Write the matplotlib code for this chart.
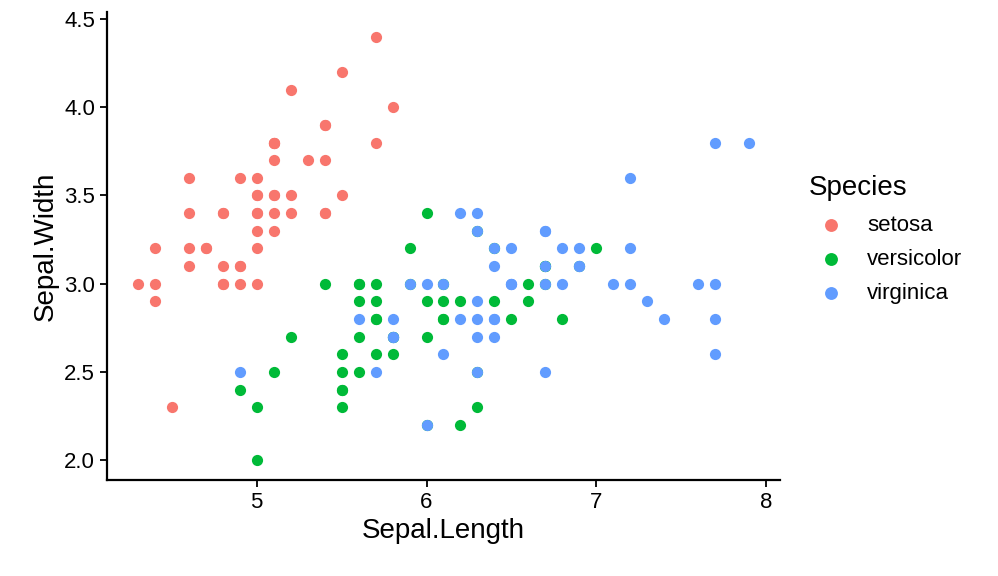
import matplotlib.pyplot as plt

# iris: sepal length / width per species
setosa_len = [5.1, 4.9, 4.7, 4.6, 5.0, 5.4, 4.6, 5.0, 4.4, 4.9, 5.4, 4.8, 4.8, 4.3, 5.8, 5.7, 5.4, 5.1, 5.7, 5.1,
              5.4, 5.1, 4.6, 5.1, 4.8, 5.0, 5.0, 5.2, 5.2, 4.7, 4.8, 5.4, 5.2, 5.5, 4.9, 5.0, 5.5, 4.9, 4.4, 5.1,
              5.0, 4.5, 4.4, 5.0, 5.1, 4.8, 5.1, 4.6, 5.3, 5.0]
setosa_wid = [3.5, 3.0, 3.2, 3.1, 3.6, 3.9, 3.4, 3.4, 2.9, 3.1, 3.7, 3.4, 3.0, 3.0, 4.0, 4.4, 3.9, 3.5, 3.8, 3.8,
              3.4, 3.7, 3.6, 3.3, 3.4, 3.0, 3.4, 3.5, 3.4, 3.2, 3.1, 3.4, 4.1, 4.2, 3.1, 3.2, 3.5, 3.6, 3.0, 3.4,
              3.5, 2.3, 3.2, 3.5, 3.8, 3.0, 3.8, 3.2, 3.7, 3.3]
versi_len = [7.0, 6.4, 6.9, 5.5, 6.5, 5.7, 6.3, 4.9, 6.6, 5.2, 5.0, 5.9, 6.0, 6.1, 5.6, 6.7, 5.6, 5.8, 6.2, 5.6,
             5.9, 6.1, 6.3, 6.1, 6.4, 6.6, 6.8, 6.7, 6.0, 5.7, 5.5, 5.5, 5.8, 6.0, 5.4, 6.0, 6.7, 6.3, 5.6, 5.5,
             5.5, 6.1, 5.8, 5.0, 5.6, 5.7, 5.7, 6.2, 5.1, 5.7]
versi_wid = [3.2, 3.2, 3.1, 2.3, 2.8, 2.8, 3.3, 2.4, 2.9, 2.7, 2.0, 3.0, 2.2, 2.9, 2.9, 3.1, 3.0, 2.7, 2.2, 2.5,
             3.2, 2.8, 2.5, 2.8, 2.9, 3.0, 2.8, 3.0, 2.9, 2.6, 2.4, 2.4, 2.7, 2.7, 3.0, 3.4, 3.1, 2.3, 3.0, 2.5,
             2.6, 3.0, 2.6, 2.3, 2.7, 3.0, 2.9, 2.9, 2.5, 2.8]
virg_len = [6.3, 5.8, 7.1, 6.3, 6.5, 7.6, 4.9, 7.3, 6.7, 7.2, 6.5, 6.4, 6.8, 5.7, 5.8, 6.4, 6.5, 7.7, 7.7, 6.0,
            6.9, 5.6, 7.7, 6.3, 6.7, 7.2, 6.2, 6.1, 6.4, 7.2, 7.4, 7.9, 6.4, 6.3, 6.1, 7.7, 6.3, 6.4, 6.0, 6.9,
            6.7, 6.9, 5.8, 6.8, 6.7, 6.7, 6.3, 6.5, 6.2, 5.9]
virg_wid = [3.3, 2.7, 3.0, 2.9, 3.0, 3.0, 2.5, 2.9, 2.5, 3.6, 3.2, 2.7, 3.0, 2.5, 2.8, 3.2, 3.0, 3.8, 2.6, 2.2,
            3.2, 2.8, 2.8, 2.7, 3.3, 3.2, 2.8, 3.0, 2.8, 3.0, 2.8, 3.8, 2.8, 2.8, 2.6, 3.0, 3.4, 3.1, 3.0, 3.1,
            3.1, 3.1, 2.7, 3.2, 3.3, 3.0, 2.5, 3.0, 3.4, 3.0]

species = ["setosa", "versicolor", "virginica"]
colors = ["#F8766D", "#00BA38", "#619CFF"]
series = [(setosa_len, setosa_wid), (versi_len, versi_wid), (virg_len, virg_wid)]

plt.rcParams['font.family'] = ['Liberation Sans', 'DejaVu Sans']
fig = plt.figure(figsize=(9.98, 5.76), dpi=100)
ax = fig.add_axes([107 / 998, 1 - 480 / 576, 673 / 998, 468 / 576])

for name, col, (xs, ys) in zip(species, colors, series):
    ax.scatter(xs, ys, s=65, color=col, label=name, linewidths=0)

ax.set_xlim(4.12, 8.08)
ax.set_ylim(1.887, 4.54)
ax.set_xticks([5, 6, 7, 8])
ax.set_yticks([2.0, 2.5, 3.0, 3.5, 4.0, 4.5])
ax.set_yticklabels(["2.0", "2.5", "3.0", "3.5", "4.0", "4.5"])
for s in ["top", "right"]:
    ax.spines[s].set_visible(False)
for s in ["left", "bottom"]:
    ax.spines[s].set_linewidth(1.6)
ax.tick_params(labelsize=16, width=1.3, length=5, colors="black")
ax.set_xlabel("Sepal.Length", fontsize=20)
ax.set_ylabel("Sepal.Width", fontsize=20)

leg = ax.legend(title="Species", loc="upper left", bbox_to_anchor=(1.03, 0.67), frameon=False,
                fontsize=16, title_fontsize=20, handletextpad=0.6, labelspacing=0.6, markerscale=1.15,
                borderaxespad=0)
leg._legend_box.align = "left"

fig.savefig("out.png", dpi=100)
